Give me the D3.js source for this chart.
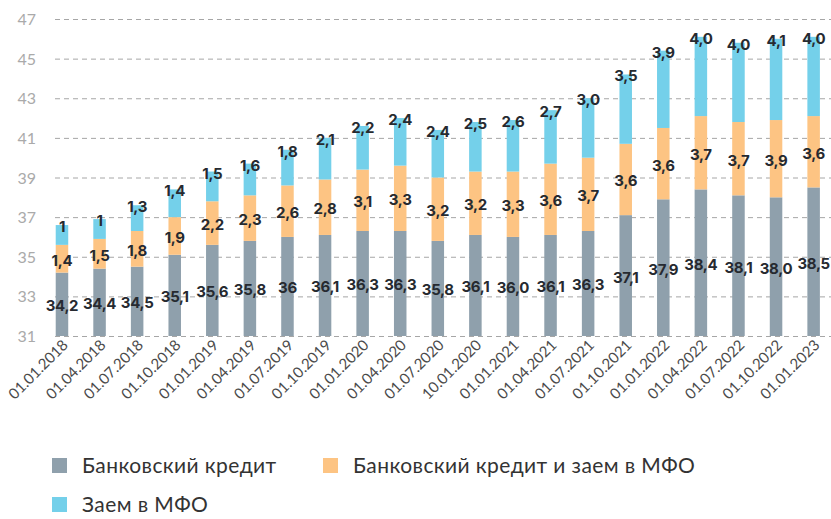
<!DOCTYPE html>
<html>
<head>
<meta charset="utf-8">
<script src="https://cdn.jsdelivr.net/npm/d3@7"></script>
<style>
    body { margin: 0; background: #fff; }
    svg { display: block; font-family: Lato, "Open Sans", sans-serif; }
</style>
</head>
<body>
<svg id="chart" width="831" height="519"></svg>
<script>
var dates = [
    "01.01.2018", "01.04.2018", "01.07.2018", "01.10.2018",
    "01.01.2019", "01.04.2019", "01.07.2019", "01.10.2019",
    "01.01.2020", "01.04.2020", "01.07.2020", "10.01.2020",
    "01.01.2021", "01.04.2021", "01.07.2021", "01.10.2021",
    "01.01.2022", "01.04.2022", "01.07.2022", "01.10.2022",
    "01.01.2023"
];
// labels kept as printed on the chart
var bankCredit = ["34,2", "34,4", "34,5", "35,1", "35,6", "35,8", "36", "36,1",
    "36,3", "36,3", "35,8", "36,1", "36,0", "36,1", "36,3", "37,1",
    "37,9", "38,4", "38,1", "38,0", "38,5"];
var bankAndMfo = ["1,4", "1,5", "1,8", "1,9", "2,2", "2,3", "2,6", "2,8",
    "3,1", "3,3", "3,2", "3,2", "3,3", "3,6", "3,7", "3,6",
    "3,6", "3,7", "3,7", "3,9", "3,6"];
var mfoLoan = ["1", "1", "1,3", "1,4", "1,5", "1,6", "1,8", "2,1",
    "2,2", "2,4", "2,4", "2,5", "2,6", "2,7", "3,0", "3,5",
    "3,9", "4,0", "4,0", "4,1", "4,0"];
var yTicks = [31, 33, 35, 37, 39, 41, 43, 45, 47];

var seriesNames = ["Банковский кредит", "Банковский кредит и заем в МФО", "Заем в МФО"];
var colors = ["#8fa0ac", "#fdc483", "#74d0ea"];

function num(s) { return +s.replace(",", "."); }

var rows = dates.map(function (d, i) {
    return { date: d, a: num(bankCredit[i]), b: num(bankAndMfo[i]), c: num(mfoLoan[i]),
        la: bankCredit[i], lb: bankAndMfo[i], lc: mfoLoan[i] };
});
var stack = d3.stack().keys(["a", "b", "c"])(rows);

var svg = d3.select("#chart");

var x = d3.scaleBand().domain(dates).range([43.2, 832.4])
    .paddingInner(0.667).paddingOuter(0.333);
var y = d3.scaleLinear().domain([31, 47]).range([336, 19]).clamp(true);

// grid
svg.append("g").selectAll("line").data(yTicks).join("line")
    .attr("x1", 55).attr("x2", 831)
    .attr("y1", function (d) { return y(d) + 0.5; })
    .attr("y2", function (d) { return y(d) + 0.5; })
    .attr("stroke", "#a6a6a6").attr("stroke-width", 1)
    .attr("stroke-dasharray", "5,4");

svg.append("g").selectAll("text").data(yTicks).join("text")
    .attr("x", 36).attr("y", function (d) { return y(d) + 6; })
    .attr("text-anchor", "end").attr("font-size", 16).attr("fill", "#aaaaaa")
    .text(function (d) { return d; });

// bars
var layers = svg.append("g").selectAll("g").data(stack).join("g")
    .attr("fill", function (d, i) { return colors[i]; });
layers.selectAll("rect").data(function (d) { return d; }).join("rect")
    .attr("x", function (d) { return x(d.data.date); })
    .attr("width", x.bandwidth())
    .attr("y", function (d) { return y(d[1]); })
    .attr("height", function (d) { return y(d[0]) - y(d[1]); });

// value labels
var lbl = svg.append("g").attr("font-family", "Inter, sans-serif")
    .attr("font-weight", 700).attr("font-size", 15).attr("fill", "#262a30")
    .attr("text-anchor", "middle").attr("letter-spacing", "-0.3");
["a", "b", "c"].forEach(function (k, i) {
    lbl.selectAll("text.l" + k).data(stack[i]).join("text")
        .attr("class", "l" + k)
        .attr("x", function (d) { return x(d.data.date) + x.bandwidth() / 2; })
        .attr("y", function (d) {
            if (k === "c") return y(d[1]) + 7;
            return (y(d[0]) + y(d[1])) / 2 + 7;
        })
        .text(function (d) { return d.data["l" + k]; });
});

// x labels
svg.append("g").selectAll("text").data(dates).join("text")
    .attr("transform", function (d) {
        return "translate(" + (x(d) + x.bandwidth() / 2 + 7) + ",346) rotate(-45)";
    })
    .attr("text-anchor", "end").attr("font-size", 15).attr("fill", "#4a4a4a")
    .attr("letter-spacing", "0")
    .text(function (d) { return d; });

// legend
var legendItems = [
    { name: seriesNames[0], color: colors[0], x: 52, y: 458 },
    { name: seriesNames[1], color: colors[1], x: 323, y: 458 },
    { name: seriesNames[2], color: colors[2], x: 52, y: 497 }
];
var lg = svg.append("g").selectAll("g").data(legendItems).join("g")
    .attr("transform", function (d) { return "translate(" + d.x + "," + d.y + ")"; });
lg.append("rect").attr("width", 15).attr("height", 15)
    .attr("fill", function (d) { return d.color; });
lg.append("text").attr("x", 30).attr("y", 15)
    .attr("font-size", 21).attr("fill", "#333").attr("letter-spacing", "0.4")
    .text(function (d) { return d.name; });
</script>
</body>
</html>
